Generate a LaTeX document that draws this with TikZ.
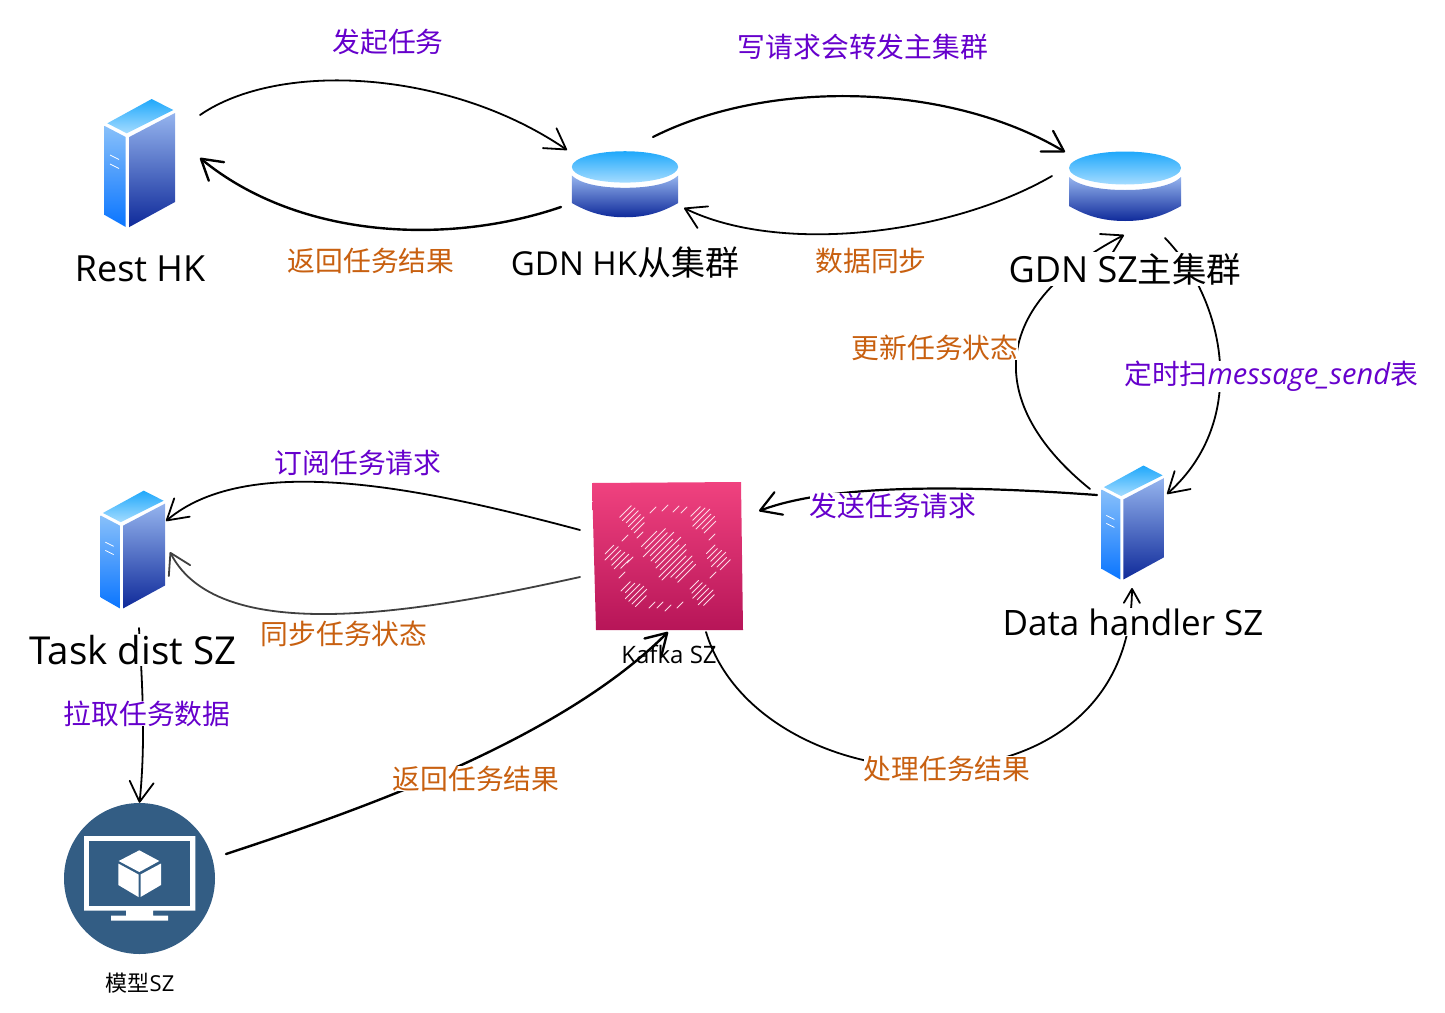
\documentclass[tikz,border=0pt]{standalone}
\usepackage{fontspec}
\setmainfont{Open Sans}
\newfontfamily\cjk{Noto Sans CJK SC}
\usetikzlibrary{arrows.meta, backgrounds}
\definecolor{taskpurple}{RGB}{102,0,204}
\definecolor{taskorange}{RGB}{200,96,16}
\definecolor{modelblue}{RGB}{51,93,132}
\definecolor{kafkatop}{RGB}{240,66,127}
\definecolor{kafkabottom}{RGB}{183,21,88}
\definecolor{lidtop}{RGB}{31,168,251}
\definecolor{lidbottom}{RGB}{165,220,255}
\definecolor{sidetop}{RGB}{136,192,250}
\definecolor{sidebottom}{RGB}{10,117,255}
\definecolor{bodytop}{RGB}{149,180,238}
\definecolor{bodybottom}{RGB}{15,42,154}
\tikzset{
  iconbox/.style={inner sep=0pt, minimum width=#1, minimum height=130pt},
  caption/.style={fill=white, inner sep=1pt, text=black, font=\fontsize{#1}{38}\selectfont},
  purplelabel/.style={fill=white, inner sep=0pt, text=taskpurple, font=\fontsize{27.8}{30}\selectfont\cjk},
  orangelabel/.style={fill=white, inner sep=0pt, text=taskorange, font=\fontsize{27.8}{30}\selectfont\cjk},
  sketch/.style={draw=black, line width=1.8pt, line cap=round,
                 -{Straight Barb[length=20pt, width=24pt, round]}},
  hatch/.style={draw=white!80!kafkatop, line width=.9pt, line cap=round},
  pics/server/.style={code={
    \shade[top color=lidtop, bottom color=lidbottom]
      (11.7,-64) -- (33.3,-53) -- (-13.3,-29.7) -- (-32.7,-39.7) -- cycle;
    \shade[top color=sidetop, bottom color=sidebottom]
      (-35.3,-37) -- (-14.3,-26) -- (-14.3,64) -- (-35.3,52) -- cycle;
    \shade[top color=bodytop, bottom color=bodybottom]
      (-10.7,-26) -- (35,-50) -- (35,39) -- (-10.7,64) -- cycle;
    \draw[white, line width=.8pt] (-30,-8) -- (-21,-3.5) (-30,1) -- (-21,5.5);
  }},
  pics/database/.style={code={
    \shade[top color=bodytop, bottom color=bodybottom]
      (-56,-9) -- (-56,20) .. controls (-40,29) and (-24,35) .. (0,35)
      .. controls (24,35) and (40,29) .. (56,20) -- (56,-9)
      .. controls (48,-1) and (28,4) .. (0,4) .. controls (-28,4) and (-48,-1) .. (-56,-9) -- cycle;
    \shade[top color=lidtop, bottom color=lidbottom]
      (0,-18) ellipse [x radius=56pt, y radius=16.5pt];
  }}
}

\begin{document}
\begin{tikzpicture}[x=1pt, y=-1pt]
  \useasboundingbox (0,0) rectangle (1445,1012);

  % icons
  \node[iconbox=72pt] (resthk) at (140,163) {};
  \pic at (resthk.center) {server};
  \node[iconbox=112pt, minimum height=72pt] (gdnhk) at (625,184) {};
  \pic[scale=.95] at (gdnhk.center) {database};
  \node[iconbox=114pt, minimum height=72pt] (gdnsz) at (1125,186) {};
  \pic at (gdnsz.center) {database};
  \node[iconbox=66pt, minimum height=118pt] (handler) at (1133,522.5) {};
  \pic[scale=.89] at (handler.center) {server};
  \node[iconbox=68pt, minimum height=118pt] (taskdist) at (133,549.5) {};
  \pic[scale=.92] at (taskdist.center) {server};

  \node[inner sep=0pt, minimum width=150pt, minimum height=148pt] (kafka) at (668,556) {};
  \shade[top color=kafkatop, bottom color=kafkabottom]
    (592,483) -- (741,482) -- (743,630) -- (596,630) -- cycle;
  \pgfmathsetseed{11}
  \foreach \cx/\cy in {633/520,703/520,618/557,718/558,635/593,702/593}
    \foreach \d in {-8,-5,...,8} {
      \pgfmathsetmacro{\halfa}{sqrt(120-\d*\d)*.71*(.6+.6*rnd)}
      \pgfmathsetmacro{\halfb}{sqrt(120-\d*\d)*.71*(.6+.6*rnd)}
      \draw[hatch] (\cx+\d-\halfa,\cy+\d+\halfa) -- (\cx+\d+\halfb,\cy+\d-\halfb);
    }
  \foreach \d in {-18,-15,...,18} {
    \pgfmathsetmacro{\halfa}{sqrt(500-\d*\d)*.71*(.6+.5*rnd)}
    \pgfmathsetmacro{\halfb}{sqrt(500-\d*\d)*.71*(.6+.5*rnd)}
    \draw[hatch] (668+\d-\halfa,556+\d+\halfa) -- (668+\d+\halfb,556+\d-\halfb);
  }
  \foreach \cx/\cy in {653/510,665/508,676/509,684/510,652/605,660/605,668/608,680/605,
                       625/538,640/535,712/537,713/575,622/575,630/560}
    \draw[hatch] (\cx-3,\cy+3) -- (\cx+3,\cy-3);

  \node[circle, fill=modelblue, inner sep=0pt, minimum size=151pt] (model) at (139.5,878.5) {};
  \fill[white] (84,836) rectangle (195.3,910.7) (126,910) rectangle (153,916) (111,915.5) rectangle (168,920.7);
  \fill[modelblue] (89.3,841) rectangle (190,905.7);
  \fill[white] (139.3,850.3) -- (159.3,861) -- (139.3,872) -- (118.7,861) -- cycle
    (118.3,863.5) -- (138.5,874.5) -- (138.5,897) -- (118.3,885) -- cycle
    (140.5,874.5) -- (161,863.5) -- (161,885) -- (140.5,897) -- cycle;

  % names
  \node[caption=36] (restname) at (140,269) {Rest HK};
  \node[caption=33] (gdnhkname) at (625,263) {GDN HK{\cjk\fontsize{34}{36}\selectfont 从集群}};
  \node[caption=36] (gdnszname) at (1125,269) {GDN SZ{\cjk\fontsize{34.5}{36}\selectfont 主集群}};
  \node[caption=38.5] (taskname) at (133,650) {Task dist SZ};
  \node[caption=35] (handlername) at (1133,622) {Data handler SZ};
  \node[font=\fontsize{24}{26}\selectfont] (kafkaname) at (669,654) {Kafka SZ};
  \node[font=\fontsize{22}{24}\selectfont] (modelname) at (140,983) {{\cjk 模型}SZ};

  % labels
  \node[purplelabel] (startlabel) at (388,41.5) {发起任务};
  \node[purplelabel] (writelabel) at (863,46.5) {写请求会转发主集群};
  \node[orangelabel] (hkresult) at (371,261) {返回任务结果};
  \node[orangelabel] (synclabel) at (871,261) {数据同步};
  \node[orangelabel] (updatelabel) at (935,347.5) {更新任务状态};
  \node[purplelabel] (scanlabel) at (1271,376.5) {定时扫{\normalfont\itshape\fontsize{29}{30}\selectfont message\_send}表};
  \node[purplelabel] (subscribe) at (358,462.5) {订阅任务请求};
  \node[purplelabel] (sendlabel) at (893,505.5) {发送任务请求};
  \node[orangelabel] (statelabel) at (344,633.5) {同步任务状态};
  \node[purplelabel] (pulllabel) at (147,713.5) {拉取任务数据};
  \node[orangelabel] (szresult) at (476,778.5) {返回任务结果};
  \node[orangelabel] (handleresult) at (947,768.5) {处理任务结果};

  % connectors
  \begin{scope}[on background layer]
    \draw[sketch] ([shift={(60,-48)}]resthk.center) .. controls (280,60) and (450,70)
      .. ([shift={(-58,-34)}]gdnhk.center);
    \draw[sketch, line width=2.4pt] ([shift={(-64,23)}]gdnhk.center) .. controls (450,245) and (300,240)
      .. ([shift={(60,-5)}]resthk.center);
    \draw[sketch, line width=2.2pt] ([shift={(28,-47)}]gdnhk.center) .. controls (770,78) and (950,83)
      .. ([shift={(-60,-34)}]gdnsz.center);
    \draw[sketch] ([shift={(-73,-10)}]gdnsz.center) .. controls (950,235) and (780,255)
      .. ([shift={(59,24)}]gdnhk.center);
    \draw[sketch] ([shift={(-43,-33.5)}]handler.center) .. controls (992,410) and (980,310)
      .. ([shift={(-1,49)}]gdnsz.center);
    \draw[sketch] ([shift={(40,52)}]gdnsz.center) .. controls (1225,300) and (1250,420)
      .. ([shift={(34,-28.5)}]handler.center);
    \draw[sketch, line width=2.2pt] ([shift={(-36,-27.5)}]handler.center) .. controls (1000,488) and (840,480)
      .. ([shift={(91,-45)}]kafka.center);
    \draw[sketch] ([shift={(-88,-26)}]kafka.center) .. controls (430,490) and (250,450)
      .. ([shift={(33,-28.5)}]taskdist.center);
    \draw[sketch, draw=black!75] ([shift={(-88,21)}]kafka.center) .. controls (430,610) and (220,650)
      .. ([shift={(37,2.5)}]taskdist.center);
    \draw[sketch] ([shift={(6,78.5)}]taskdist.center) .. controls (142,680) and (146,740)
      .. (model.north);
    \draw[sketch, line width=2.4pt] ([shift={(86.5,-24.5)}]model.center) .. controls (360,810) and (560,740)
      .. ([shift={(0,76)}]kafka.center);
    \draw[sketch, -{Straight Barb[length=14pt, width=16pt, round]}] ([shift={(38,76)}]kafka.center) .. controls (760,810) and (1130,830)
      .. ([shift={(-1,65.5)}]handler.center);
  \end{scope}
\end{tikzpicture}
\end{document}
